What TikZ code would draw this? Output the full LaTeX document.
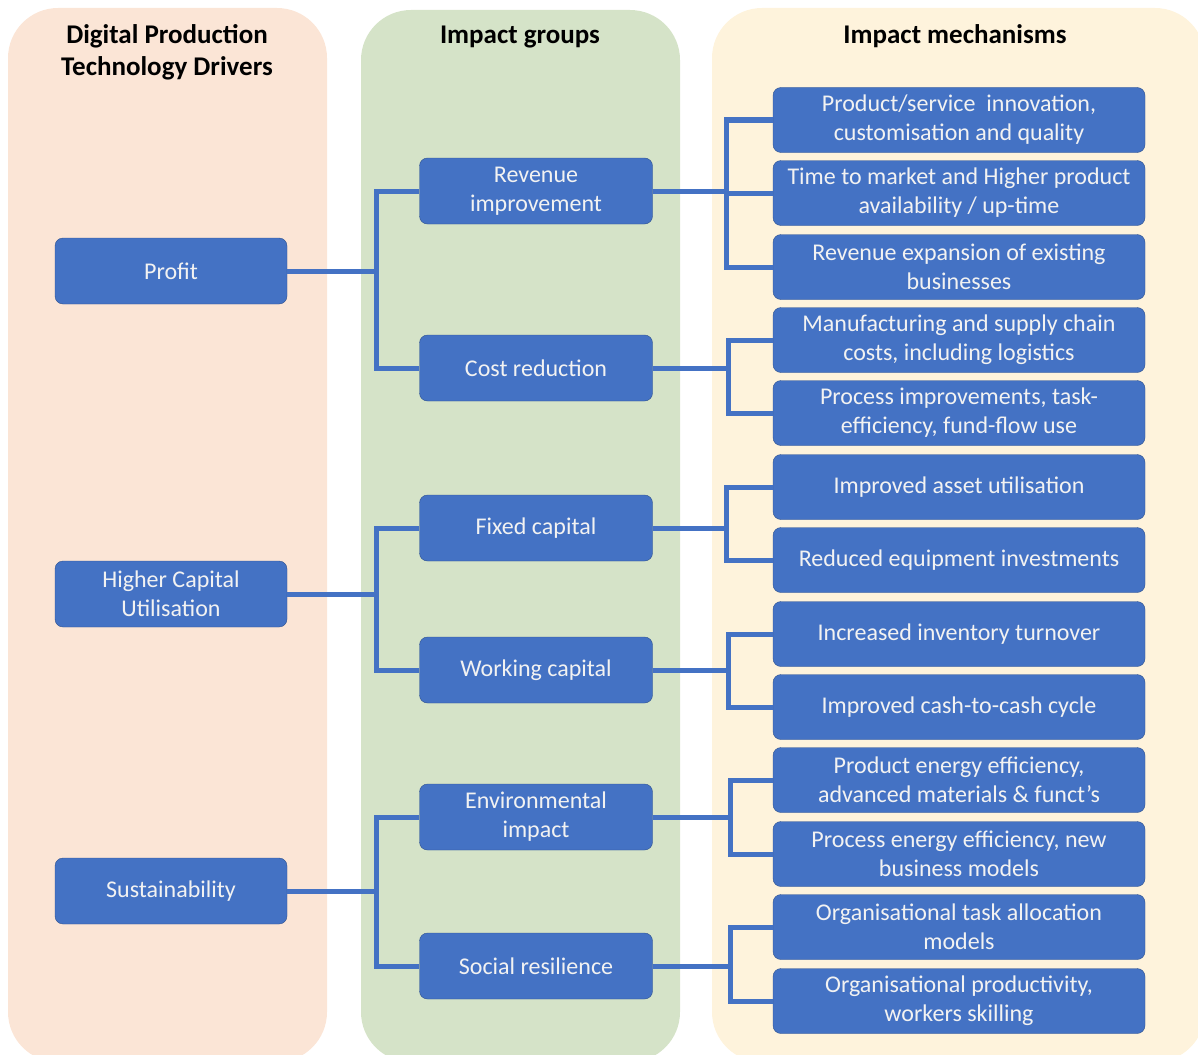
\documentclass[tikz,border=0pt]{standalone}
\usepackage{fontspec}
\setmainfont{Carlito}
\usetikzlibrary{calc}
\definecolor{boxblue}{RGB}{68,114,196}
\definecolor{boxline}{RGB}{47,82,143}
\definecolor{driverbg}{RGB}{251,229,214}
\definecolor{groupbg}{RGB}{213,227,200}
\definecolor{mechbg}{RGB}{254,243,220}
\definecolor{boxtext}{RGB}{242,242,242}

\begin{document}
\begin{tikzpicture}[x=1pt,y=-1pt,
	box/.style={draw=boxline, fill=boxblue, text=boxtext, rounded corners=8pt, align=center, font=\fontsize{24}{29}\selectfont, inner sep=0pt, minimum height=66pt},
	driver/.style={box, minimum width=232pt},
	group/.style={box, minimum width=233pt},
	mech/.style={box, minimum width=372pt, minimum height=65pt},
	head/.style={align=center, font=\bfseries\fontsize{27}{32}\selectfont},
	link/.style={boxblue, line width=5pt}]
	\useasboundingbox (0,0) rectangle (1198,1054);
	\fill[driverbg, rounded corners=50pt] (8,8) rectangle (327,1062);
	\fill[groupbg, rounded corners=50pt] (361,10) rectangle (680,1062);
	\fill[mechbg, rounded corners=50pt] (712,8) rectangle (1205,1062);
	\node[head] (H1) at (167,52) {Digital Production\\Technology Drivers};
	\node[head] (H2) at (520,37) {Impact groups};
	\node[head] (H3) at (955,36) {Impact mechanisms};

	\node[driver] (D1) at (171,271) {Profit};
	\node[driver] (D2) at (171,594) {Higher Capital\\Utilisation};
	\node[driver] (D3) at (171,891) {Sustainability};

	\node[group] (G1) at (536,191) {Revenue\\improvement};
	\node[group] (G2) at (536,368) {Cost reduction};
	\node[group] (G3) at (536,528) {Fixed capital};
	\node[group] (G4) at (536,670) {Working capital};
	\node[group] (G5) at (536,817) {Environmental\\impact};
	\node[group] (G6) at (536,966) {Social resilience};

	\node[mech] (M1) at (959,120) {Product/service\ \ innovation,\\customisation and quality};
	\node[mech] (M2) at (959,193) {Time to market and Higher product\\availability / up-time};
	\node[mech] (M3) at (959,267) {Revenue expansion of existing\\businesses};
	\node[mech] (M4) at (959,340) {Manufacturing and supply chain\\costs, including logistics};
	\node[mech] (M5) at (959,413) {Process improvements, task-\\efficiency, fund-flow use};
	\node[mech] (M6) at (959,487) {Improved asset utilisation};
	\node[mech] (M7) at (959,560) {Reduced equipment investments};
	\node[mech] (M8) at (959,634) {Increased inventory turnover};
	\node[mech] (M9) at (959,707) {Improved cash-to-cash cycle};
	\node[mech] (M10) at (959,780) {Product energy efficiency,\\advanced materials \& funct’s};
	\node[mech] (M11) at (959,854) {Process energy efficiency, new\\business models};
	\node[mech] (M12) at (959,927) {Organisational task allocation\\models};
	\node[mech] (M13) at (959,1001) {Organisational productivity,\\workers skilling};

	\draw[link] (D1.east) -- ++(89,0) |- (G1.west);
	\draw[link] (D1.east) -- ++(89,0) |- (G2.west);
	\draw[link] (D2.east) -- ++(89,0) |- (G3.west);
	\draw[link] (D2.east) -- ++(89,0) |- (G4.west);
	\draw[link] (D3.east) -- ++(89,0) |- (G5.west);
	\draw[link] (D3.east) -- ++(89,0) |- (G6.west);

	\draw[link] (G1.east) -- ++(74,0) |- (M1.west);
	\draw[link] (G1.east) -- ++(74,0) |- (M2.west);
	\draw[link] (G1.east) -- ++(74,0) |- (M3.west);
	\draw[link] (G2.east) -- ++(76,0) |- (M4.west);
	\draw[link] (G2.east) -- ++(76,0) |- (M5.west);
	\draw[link] (G3.east) -- ++(74,0) |- (M6.west);
	\draw[link] (G3.east) -- ++(74,0) |- (M7.west);
	\draw[link] (G4.east) -- ++(76,0) |- (M8.west);
	\draw[link] (G4.east) -- ++(76,0) |- (M9.west);
	\draw[link] (G5.east) -- ++(78,0) |- (M10.west);
	\draw[link] (G5.east) -- ++(78,0) |- (M11.west);
	\draw[link] (G6.east) -- ++(78,0) |- (M12.west);
	\draw[link] (G6.east) -- ++(78,0) |- (M13.west);
\end{tikzpicture}
\end{document}
